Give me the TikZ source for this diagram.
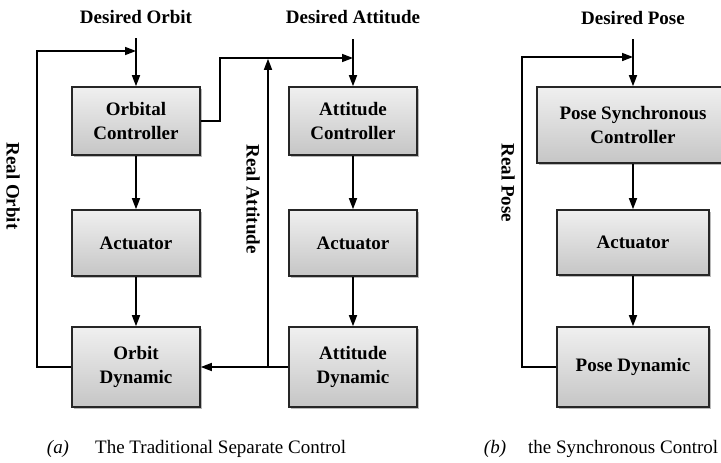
\documentclass[tikz,border=0pt]{standalone}
\usepackage{fontspec}
\setmainfont{Liberation Serif}
\usetikzlibrary{arrows.meta,shadows}
\begin{document}
\begin{tikzpicture}[x=1pt,y=-1pt,
  blk/.style={draw=black!85,line width=1.6pt,rectangle,align=center,
    top color=gray!12,bottom color=gray!45,
    font=\fontsize{19}{24}\selectfont\bfseries,inner sep=2pt,
    drop shadow={shadow xshift=2pt,shadow yshift=-2pt,opacity=0.45,fill=black!60}},
  lbl/.style={font=\fontsize{19}{24}\selectfont\bfseries,inner sep=0pt},
  captxt/.style={font=\fontsize{19}{24}\selectfont,inner sep=0pt},
  capit/.style={font=\fontsize{19}{24}\selectfont\itshape,inner sep=0pt},
  conn/.style={line width=1.6pt,draw=black},
  arr/.style={conn,-{Triangle[length=11pt,width=8pt]}}]
\useasboundingbox (0,0) rectangle (721,463);
\clip (0,0) rectangle (721,463);
% (a) orbit chain
\node[blk,minimum width=128,minimum height=68] (oc) at (136,121) {Orbital\\Controller};
\node[blk,minimum width=128,minimum height=66] (oa) at (136,243) {Actuator};
\node[blk,minimum width=128,minimum height=80] (od) at (136,367) {Orbit\\Dynamic};
% (a) attitude chain
\node[blk,minimum width=128,minimum height=68] (ac) at (353,121) {Attitude\\Controller};
\node[blk,minimum width=128,minimum height=66] (aa) at (353,243) {Actuator};
\node[blk,minimum width=128,minimum height=80] (ad) at (353,367) {Attitude\\Dynamic};
% (b) pose chain
\node[blk,minimum width=192,minimum height=76] (pc) at (633,125) {Pose Synchronous\\Controller};
\node[blk,minimum width=152,minimum height=65] (pa) at (633,242.5) {Actuator};
\node[blk,minimum width=152,minimum height=80] (pd) at (633,367) {Pose Dynamic};
% top labels
\node[lbl] (do) at (136,17) {Desired Orbit};
\node[lbl] (da) at (353,17) {Desired Attitude};
\node[lbl] (dp) at (633,18) {Desired Pose};
% side labels
\node[lbl,rotate=-90] (ro) at (13,186) {Real Orbit};
\node[lbl,rotate=-90] (ra) at (253,199) {Real Attitude};
\node[lbl,rotate=-90] (rp) at (508,183) {Real Pose};
% captions
\node[capit] (ca) at (58,449) {(a)};
\node[captxt,anchor=west] (cat) at (95,449) {The Traditional Separate Control};
\node[capit] (cb) at (495,449) {(b)};
\node[captxt,anchor=west] (cbt) at (528,449) {the Synchronous Control};
% coordinates
\coordinate (doS) at (136,38);
\coordinate (daS) at (353,39);
\coordinate (dpS) at (633,39);
\coordinate (ofb) at (136,51);
\coordinate (afb) at (353,58);
\coordinate (pfb) at (633,57);
\coordinate (rajoin) at (268,367);
% (a) arrows
\draw[arr] (doS) -- (oc.north);
\draw[arr] (oc) -- (oa);
\draw[arr] (oa) -- (od);
\draw[arr] (od.west) -- ++(-34,0) |- (ofb);
\draw[arr] (oc.east) -- ++(19,0) |- (afb);
\draw[arr] (daS) -- (ac.north);
\draw[arr] (ac) -- (aa);
\draw[arr] (aa) -- (ad);
\draw[arr] (ad.west) -- (od.east);
\draw[arr] (rajoin) -- (268,58.8);
% (b) arrows
\draw[arr] (dpS) -- (pc.north);
\draw[arr] (pc) -- (pa);
\draw[arr] (pa) -- (pd);
\draw[arr] (pd.west) -- ++(-34,0) |- (pfb);
\end{tikzpicture}
\end{document}
